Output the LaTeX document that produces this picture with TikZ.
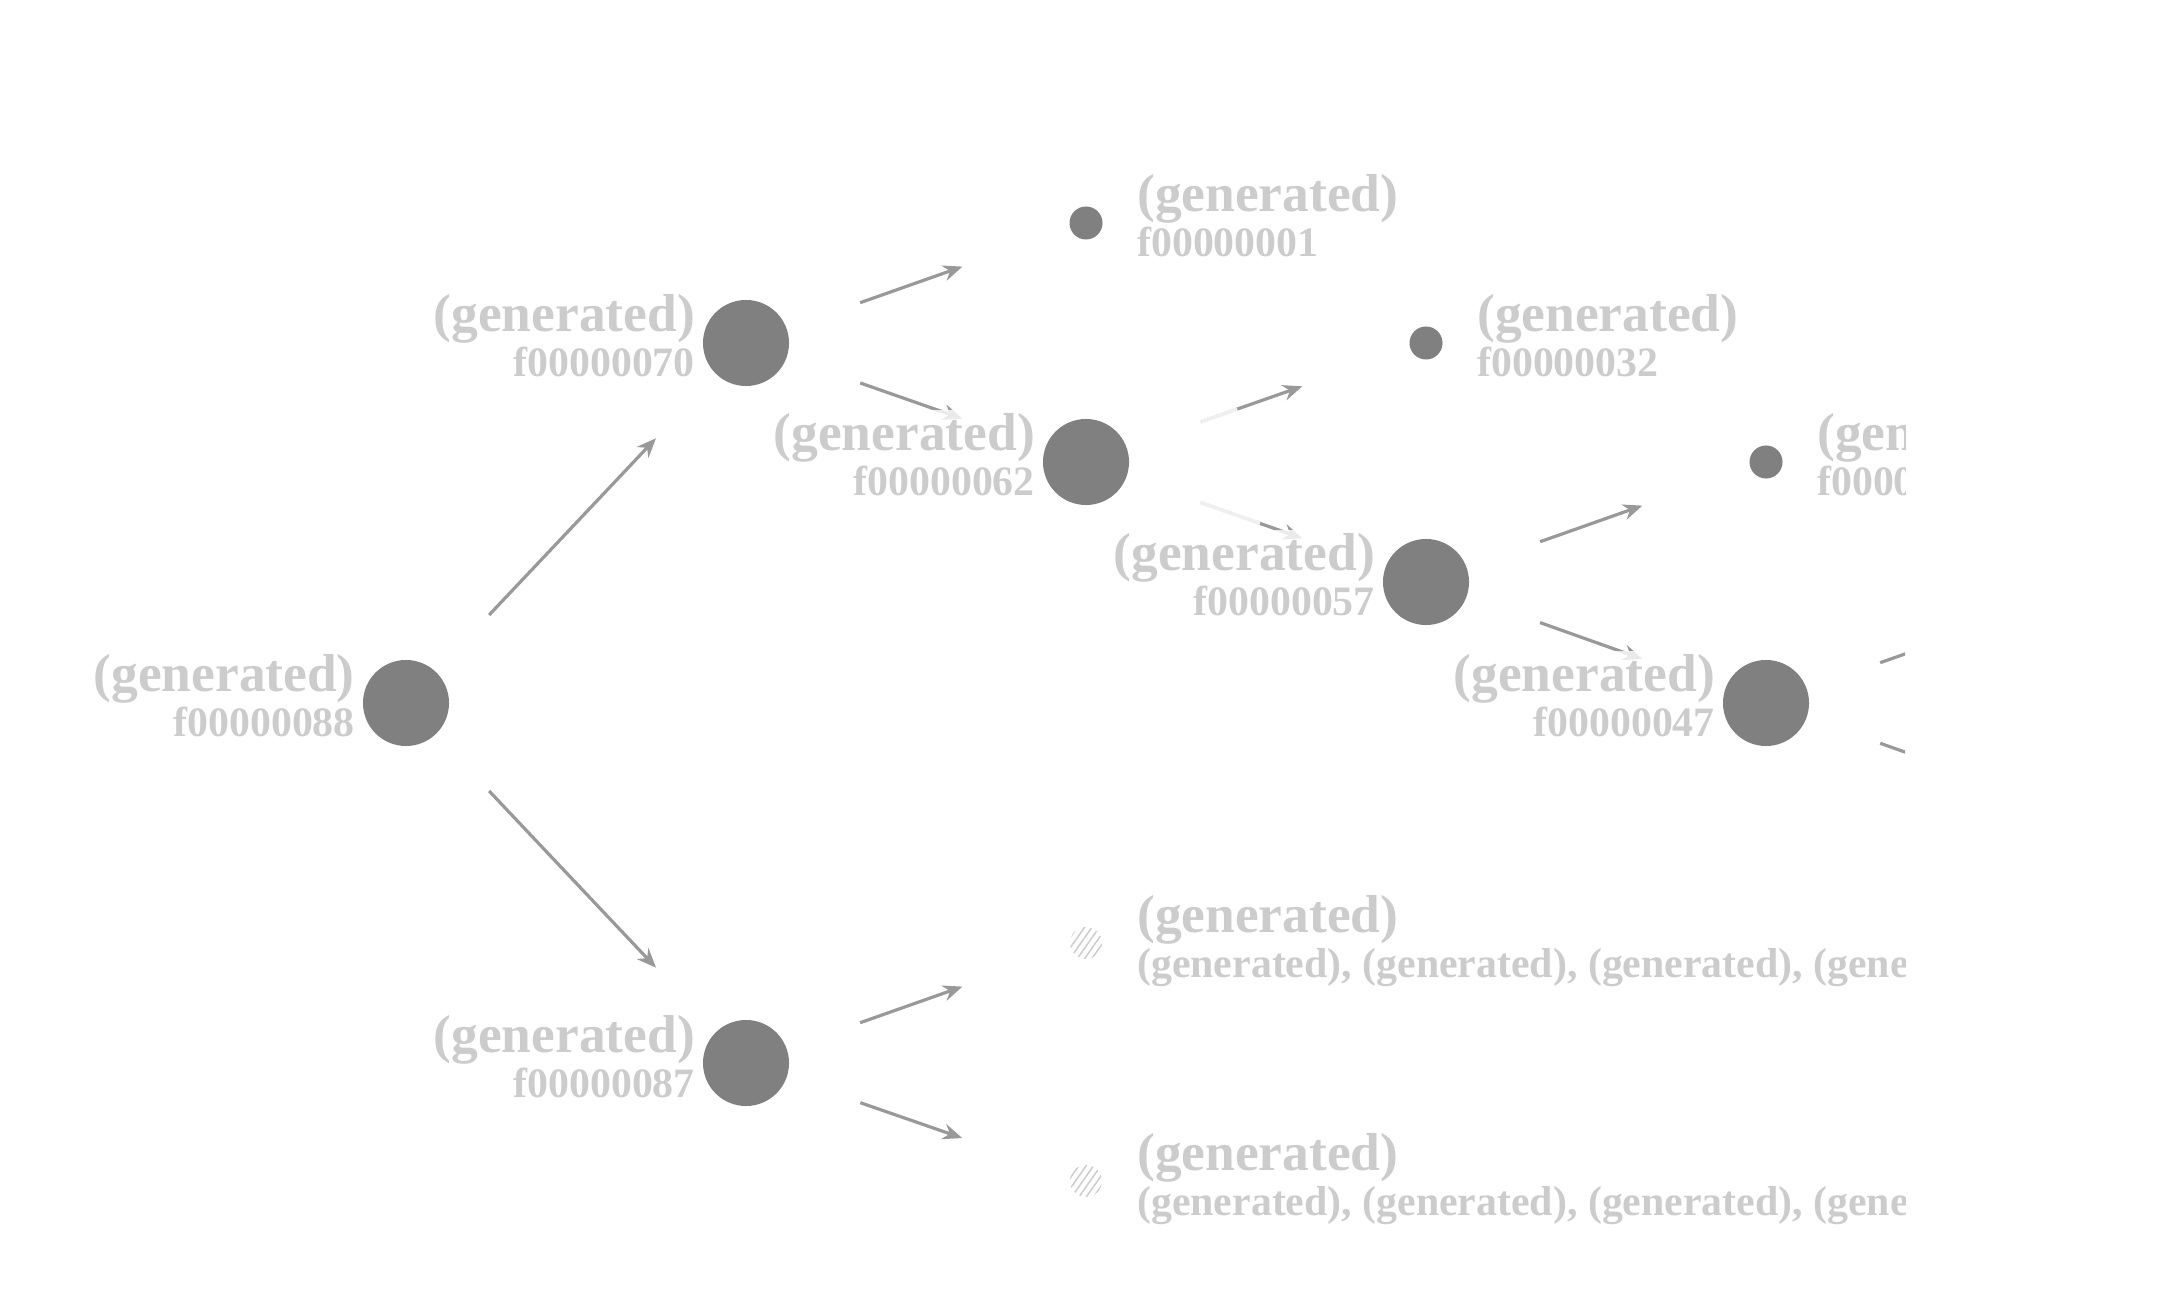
\documentclass[tikz,border=0pt]{standalone}
\usepackage{fontspec}
\setmainfont{Liberation Serif}
\usetikzlibrary{arrows.meta, positioning, calc, patterns.meta}
\definecolor{NodeGray}{HTML}{808080}
\definecolor{LabelGray}{HTML}{CCCCCC}
\definecolor{EdgeGray}{HTML}{999999}

\begin{document}
\begin{tikzpicture}[x=0.01cm, y=-0.01cm, >={Stealth[length=5.5pt, width=4.5pt]},
        bignode/.style={circle, fill=NodeGray, minimum size=0.86cm, inner sep=0pt},
        leafdot/.style={circle, fill=NodeGray, minimum size=0.33cm, inner sep=0pt},
        hatchdot/.style={circle, minimum size=0.32cm, inner sep=0pt,
            pattern={Lines[angle=55, distance=0.06cm, line width=0.015cm]}, pattern color=LabelGray},
        edge/.style={->, EdgeGray, line width=0.032cm, shorten <=1.21cm, shorten >=1.31cm},
        labelbox/.style={LabelGray, inner sep=1pt, fill=white, fill opacity=0.8, text opacity=1},
        title/.style={labelbox, font=\fontsize{15.2}{16}\selectfont\bfseries},
        ident/.style={labelbox, font=\fontsize{11.9}{13}\selectfont\bfseries}]
        \useasboundingbox (0,0) rectangle (2158,1304);
        \begin{scope}
        \clip (0,0) rectangle (1905,1304);

        % Inner nodes
        \node[bignode] (f88) at (406,703) {};
        \node[bignode] (f70) at (746,343) {};
        \node[bignode] (f87) at (746,1063) {};
        \node[bignode] (f62) at (1086,462) {};
        \node[bignode] (f57) at (1426,582) {};
        \node[bignode] (f47) at (1766,703) {};

        % Leaves
        \node[leafdot] (f01) at (1086,223) {};
        \node[leafdot] (f32) at (1426,343) {};
        \node[leafdot] (f46) at (1766,462) {};
        \node[hatchdot] (g1) at (1086,943) {};
        \node[hatchdot] (g2) at (1086,1181) {};
        \coordinate (c1) at (2106,583);
        \coordinate (c2) at (2106,823);

        % Edges
        \foreach \a/\b in {f88/f70, f88/f87, f70/f01, f70/f62, f87/g1, f87/g2,
                           f62/f32, f62/f57, f57/f46, f57/f47, f47/c1, f47/c2} {
            \draw[edge] (\a.center) -- (\b.center);
        }
        \draw[white, opacity=0.85, line width=0.037cm, shorten <=1.2cm, shorten >=2.0cm] (f62.center) -- (f32.center);
        \draw[white, opacity=0.85, line width=0.037cm, shorten <=1.2cm, shorten >=1.76cm] (f62.center) -- (f57.center);

        % Labels left of the inner nodes
        \foreach \n/\id in {f88/88, f70/70, f87/87, f62/62, f57/57, f47/47} {
            \node[title, anchor=base east] (\n-t) at ($(\n)+(-47,-11)$) {(generated)};
            \node[ident, anchor=base east] (\n-i) at ($(\n)+(-47,34)$) {f000000\id};
        }

        % Labels right of the leaves
        \foreach \n/\id in {f01/01, f32/32, f46/46} {
            \node[title, anchor=base west] (\n-t) at ($(\n)+(47,-11)$) {(generated)};
            \node[ident, anchor=base west] (\n-i) at ($(\n)+(47,34)$) {f000000\id};
        }
        \foreach \n in {g1, g2} {
            \node[title, anchor=base west] (\n-t) at ($(\n)+(47,-11)$) {(generated)};
            \node[ident, anchor=base west] (\n-i) at ($(\n)+(47,34)$)
                {(generated), (generated), (generated), (generated), (generated)};
        }
        \end{scope}
    \end{tikzpicture}
\end{document}
